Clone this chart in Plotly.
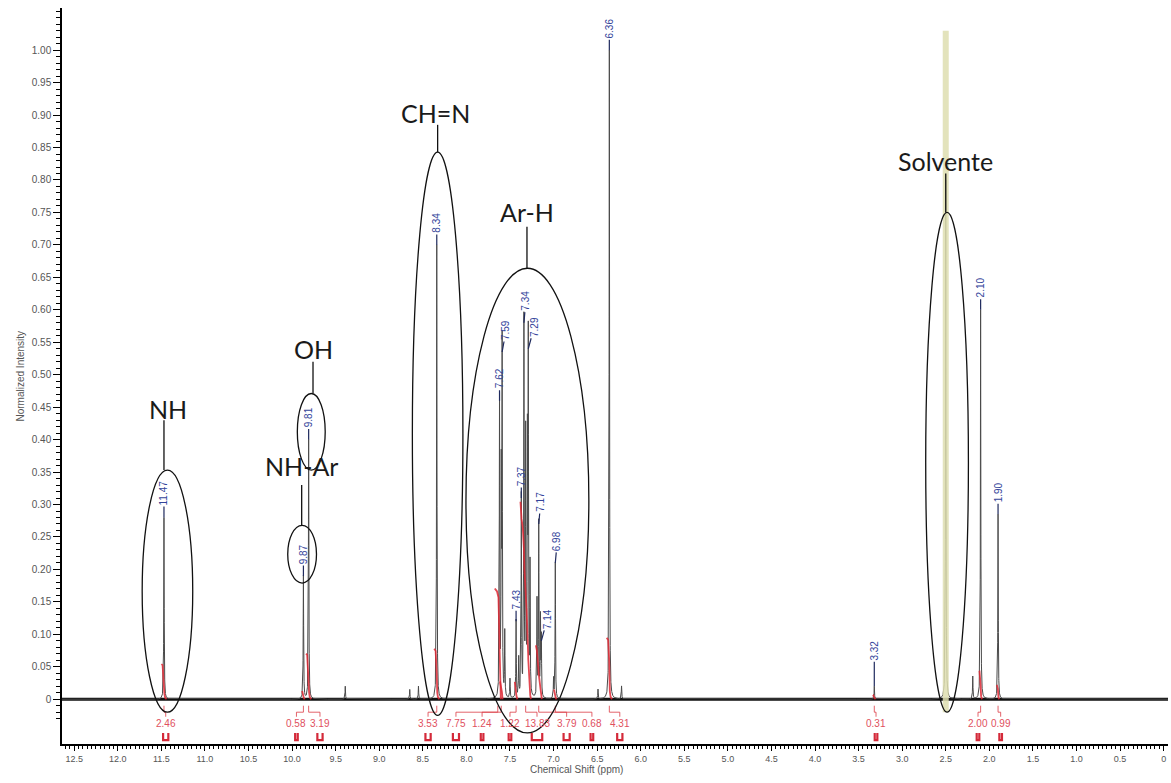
import numpy as np
import plotly.graph_objects as go

# ---- 1H NMR peak list (chemical shift in ppm, normalized intensity) ----
peak_ppm = [11.47, 9.87, 9.81, 9.39, 8.65, 8.55, 8.34,
            7.62, 7.60, 7.59, 7.56, 7.50,
            7.43, 7.40, 7.37, 7.34, 7.32,
            7.30, 7.29, 7.27, 7.19, 7.17,
            7.15, 7.14, 7.00, 6.98, 6.49,
            6.36, 6.22, 3.32, 2.50, 2.19,
            2.10, 1.90]
peak_height = [0.28, 0.19, 0.40, 0.02, 0.015, 0.02, 0.70,
               0.46, 0.33, 0.535, 0.10, 0.03,
               0.12, 0.06, 0.31, 0.58, 0.40,
               0.38, 0.54, 0.20, 0.15, 0.27,
               0.12, 0.09, 0.03, 0.21, 0.015,
               1.00, 0.02, 0.02, 0.80, 0.035,
               0.60, 0.285]

# peaks carrying a shift label
label_ppm = [11.47, 9.87, 9.81, 8.34, 7.62, 7.59, 7.43, 7.37, 7.34, 7.29,
             7.17, 7.14, 6.98, 6.36, 3.32, 2.10, 1.90]

# integration regions and values
integ_lo = [11.44, 9.855, 9.78, 8.31, 7.605, 7.585, 7.415, 7.26, 7.135, 6.965, 6.33, 3.305, 2.085, 1.885]
integ_hi = [11.50, 9.885, 9.84, 8.37, 7.675, 7.615, 7.445, 7.38, 7.205, 6.995, 6.39, 3.335, 2.115, 1.915]
integ_val = [2.46, 0.58, 3.19, 3.53, 7.75, 1.24, 1.22, 13.83, 3.79, 0.68, 4.31, 0.31, 2.00, 0.99]

solvent_ppm = 2.50

# axis ticks
x_tick_vals = [12.5, 12.0, 11.5, 11.0, 10.5, 10.0, 9.5, 9.0, 8.5, 8.0, 7.5, 7.0,
               6.5, 6.0, 5.5, 5.0, 4.5, 4.0, 3.5, 3.0, 2.5, 2.0, 1.5, 1.0, 0.5, 0.0]
x_tick_text = ["12.5", "12.0", "11.5", "11.0", "10.5", "10.0", "9.5", "9.0", "8.5", "8.0",
               "7.5", "7.0", "6.5", "6.0", "5.5", "5.0", "4.5", "4.0", "3.5", "3.0",
               "2.5", "2.0", "1.5", "1.0", "0.5", "0"]
y_tick_vals = [0.00, 0.05, 0.10, 0.15, 0.20, 0.25, 0.30, 0.35, 0.40, 0.45, 0.50,
               0.55, 0.60, 0.65, 0.70, 0.75, 0.80, 0.85, 0.90, 0.95, 1.00]
y_tick_text = ["0", "0.05", "0.10", "0.15", "0.20", "0.25", "0.30", "0.35", "0.40", "0.45", "0.50",
               "0.55", "0.60", "0.65", "0.70", "0.75", "0.80", "0.85", "0.90", "0.95", "1.00"]

X_MIN, X_MAX = -0.05, 12.64
Y_MIN, Y_MAX = -0.069, 1.065

# ---- build the spectrum as a sum of narrow Lorentzian lines ----
HWHM = 0.003
x = np.union1d(np.arange(X_MIN, X_MAX, 0.0005), np.array(peak_ppm))
y = np.zeros_like(x)
for p, h in zip(peak_ppm, peak_height):
    y += h / (1.0 + ((x - p) / HWHM) ** 2)

fig = go.Figure()

# baseline (noise band)
fig.add_trace(go.Scatter(x=[X_MAX, X_MIN], y=[0, 0], mode="lines",
                         line=dict(color="#111111", width=3), hoverinfo="skip"))

# spectrum
fig.add_trace(go.Scatter(x=x, y=y, mode="lines",
                         line=dict(color="#4a4a4a", width=1), hoverinfo="skip"))

# solvent highlight
fig.add_trace(go.Scatter(x=[solvent_ppm, solvent_ppm], y=[-0.02, 1.03], mode="lines",
                         line=dict(color="rgba(222,222,176,0.85)", width=6), hoverinfo="skip"))

# integral curves (cumulative area over each region)
INT_SCALE = 0.022
ix, iy = [], []
for lo, hi, v in zip(integ_lo, integ_hi, integ_val):
    m = (x >= lo) & (x <= hi)
    xs, ys = x[m], y[m]
    cum = np.concatenate([[0.0], np.cumsum(0.5 * (ys[1:] + ys[:-1]) * np.diff(xs))])
    cum = cum / cum[-1] * (INT_SCALE * v)
    ix += list(xs) + [None]
    iy += list(cum) + [None]
fig.add_trace(go.Scatter(x=ix, y=iy, mode="lines",
                         line=dict(color="rgba(222,40,52,0.85)", width=1.8), hoverinfo="skip"))

# integral label placement (spread under the spectrum)
integ_label_ppm = [11.45, 9.95, 9.68, 8.44, 8.12, 7.82, 7.50, 7.19, 6.85, 6.56, 6.24, 3.30, 2.13, 1.87]
bx, by, mx, my = [], [], [], []
for lo, hi, lp in zip(integ_lo, integ_hi, integ_label_ppm):
    mid = 0.5 * (lo + hi)
    bx += [mid, mid, lp, lp, None]
    by += [-0.010, -0.020, -0.020, -0.027, None]
    half = 0.5 * (hi - lo)
    mx += [lp + half, lp + half, lp - half, lp - half, None]
    my += [-0.052, -0.063, -0.063, -0.052, None]
fig.add_trace(go.Scatter(x=bx, y=by, mode="lines",
                         line=dict(color="rgba(220,60,70,0.8)", width=1), hoverinfo="skip"))
fig.add_trace(go.Scatter(x=mx, y=my, mode="lines",
                         line=dict(color="#d42a3a", width=2.2), hoverinfo="skip"))
for v, lp in zip(integ_val, integ_label_ppm):
    fig.add_annotation(x=lp, y=-0.037, text=f"{v:.2f}", showarrow=False,
                       font=dict(family="Liberation Sans", size=10, color="#e0505e"))

# peak shift labels
nudge = {7.59: 4, 7.34: 2, 7.29: 6, 7.17: 2, 7.14: 6, 6.98: 2}
for p in label_ppm:
    h = peak_height[peak_ppm.index(p)]
    txt = f"{p:.2f}"
    lead = 10 if h > 0.05 else 24
    fig.add_annotation(x=p, y=h, text=txt, textangle=-90, showarrow=True,
                       arrowhead=0, arrowwidth=1.2, arrowcolor="#1f2a5e",
                       ax=nudge.get(p, 0), ay=-(lead + 3.0 * len(txt)),
                       font=dict(family="Liberation Sans", size=10, color="#33449a"))

# group assignments: ellipses, leader lines and captions
groups = [
    # text, text_x, text_y, ellipse (x0, x1, y0, y1), leader x, leader (y_low, y_high)
    ("NH", 11.42, 0.447, (11.72, 11.14, -0.020, 0.353), 11.47, (0.353, 0.43)),
    ("OH", 9.75, 0.539, (9.94, 9.62, 0.353, 0.471), 9.76, (0.471, 0.52)),
    ("NH-Ar", 9.89, 0.359, (10.05, 9.72, 0.179, 0.268), 9.89, (0.268, 0.33)),
    ("CH=N", 8.35, 0.903, (8.62, 8.04, -0.025, 0.843), 8.33, (0.843, 0.885)),
    ("Ar-H", 7.30, 0.750, (8.005, 6.595, -0.052, 0.664), 7.305, (0.664, 0.728)),
    ("Solvente", 2.50, 0.830, (2.73, 2.24, -0.020, 0.750), 2.50, (0.750, 0.81)),
]
for text, tx, ty, (ex0, ex1, ey0, ey1), lx, (ly0, ly1) in groups:
    fig.add_shape(type="circle", xref="x", yref="y", x0=ex0, x1=ex1, y0=ey0, y1=ey1,
                  line=dict(color="#111111", width=1.3))
    fig.add_shape(type="line", xref="x", yref="y", x0=lx, x1=lx, y0=ly0, y1=ly1,
                  line=dict(color="#111111", width=1.3))
    fig.add_annotation(x=tx, y=ty, text=text, showarrow=False,
                       font=dict(family="Lato", size=25, color="#1a1a1a"))

# axis titles
fig.add_annotation(xref="paper", yref="paper", x=(576 - 62) / 1106, y=0, yshift=-33,
                   text="Chemical Shift (ppm)", showarrow=False,
                   font=dict(family="Liberation Sans", size=10, color="#555555"))
fig.add_annotation(xref="paper", yref="paper", x=0, xshift=-50, y=0.5, textangle=-90,
                   text="Normalized Intensity", showarrow=False,
                   font=dict(family="Liberation Sans", size=10, color="#555555"))

fig.update_layout(
    width=1171, height=783,
    margin=dict(l=62, r=3, t=8, b=39),
    paper_bgcolor="white", plot_bgcolor="white",
    showlegend=False,
)
fig.update_xaxes(
    range=[X_MAX, X_MIN], showgrid=False, zeroline=False,
    showline=True, linecolor="black", linewidth=1.5,
    tickmode="array", tickvals=x_tick_vals, ticktext=x_tick_text,
    ticks="outside", ticklen=5, tickwidth=1, tickcolor="black",
    minor=dict(tickmode="array", tickvals=list(np.round(np.arange(0.0, 12.65, 0.05), 2)),
               ticks="outside", ticklen=3, tickwidth=1, tickcolor="black"),
    tickfont=dict(family="Liberation Sans", size=9, color="#555555"),
)
fig.update_yaxes(
    range=[Y_MIN, Y_MAX], showgrid=False, zeroline=False,
    showline=True, linecolor="black", linewidth=1.5,
    tickmode="array", tickvals=y_tick_vals, ticktext=y_tick_text,
    ticks="outside", ticklen=7, tickwidth=1, tickcolor="black",
    minor=dict(tickmode="array", tickvals=list(np.round(np.arange(-0.03, 1.065, 0.01), 2)),
               ticks="outside", ticklen=4, tickwidth=1, tickcolor="black"),
    tickfont=dict(family="Liberation Sans", size=10, color="#555555"),
)

fig.write_html("out.html")
